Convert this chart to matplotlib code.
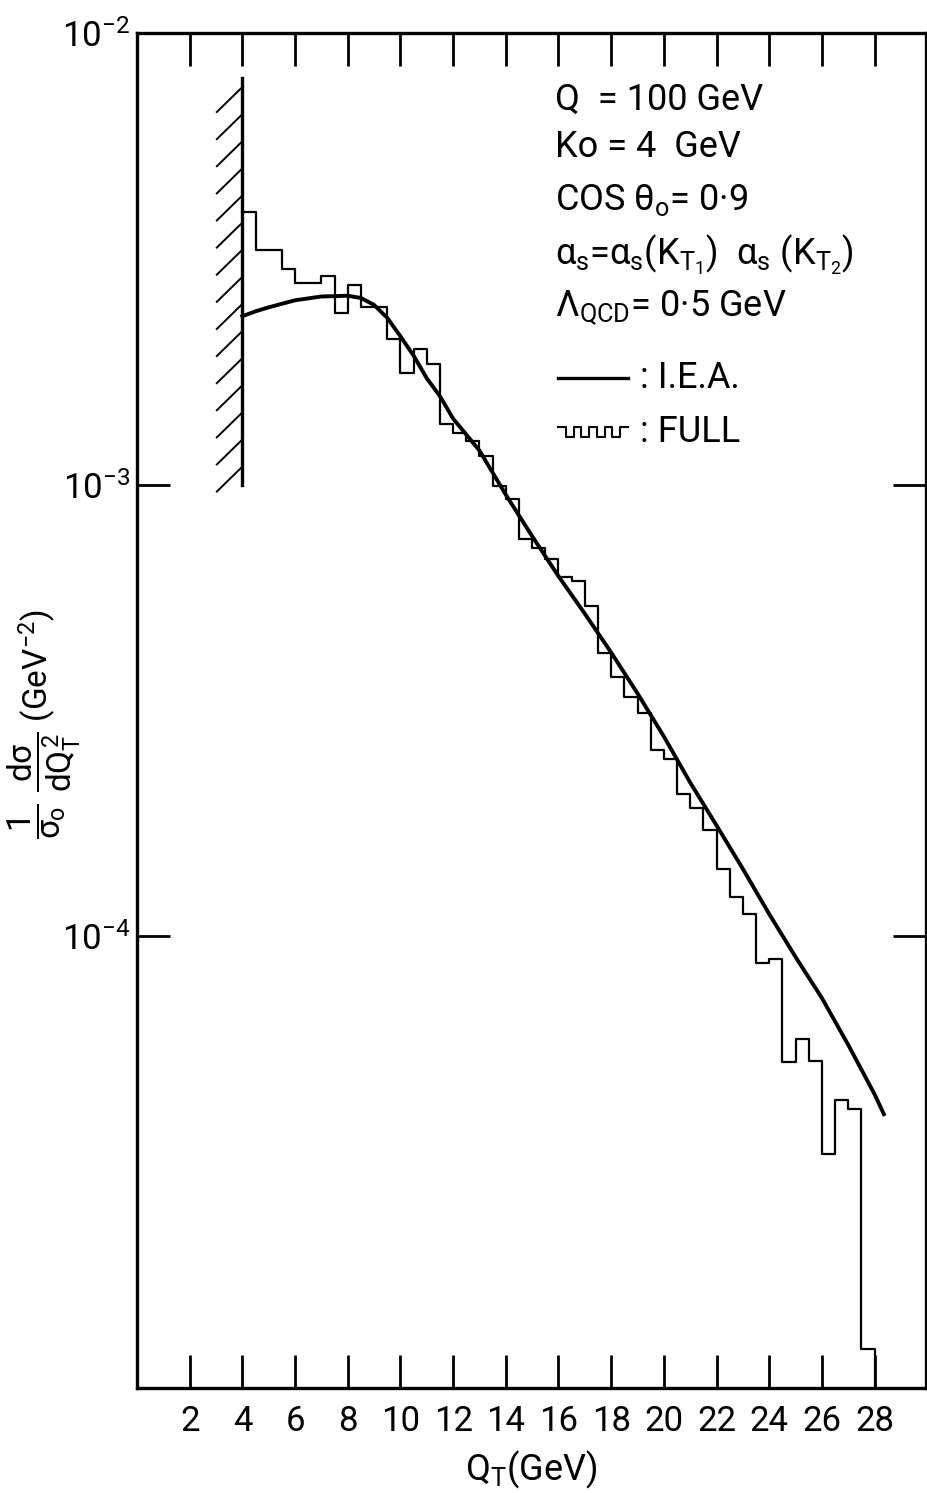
import matplotlib
matplotlib.use('Agg')
import matplotlib.pyplot as plt
import numpy as np
from matplotlib.ticker import FixedLocator, NullLocator

FONT = 'Roboto'
plt.rcParams['font.family'] = [FONT, 'DejaVu Sans']
plt.rcParams['mathtext.fontset'] = 'custom'
plt.rcParams['mathtext.rm'] = FONT
plt.rcParams['mathtext.it'] = FONT
plt.rcParams['mathtext.sf'] = FONT

# histogram (FULL), bins of 0.5 GeV starting at Ko = 4 GeV
bin_edges = np.arange(4.0, 28.01, 0.5)
full_vals = [4.02e-3, 3.30e-3, 3.30e-3, 3.01e-3, 2.80e-3, 2.80e-3, 2.89e-3, 2.40e-3,
             2.77e-3, 2.47e-3, 2.47e-3, 2.10e-3, 1.77e-3, 2.00e-3, 1.85e-3, 1.36e-3,
             1.30e-3, 1.25e-3, 1.156e-3, 9.91e-4, 9.29e-4, 7.58e-4, 7.24e-4, 6.85e-4,
             6.24e-4, 6.11e-4, 5.38e-4, 4.25e-4, 3.76e-4, 3.38e-4, 3.13e-4, 2.58e-4,
             2.47e-4, 2.07e-4, 1.92e-4, 1.72e-4, 1.41e-4, 1.22e-4, 1.12e-4, 8.75e-5,
             8.89e-5, 5.28e-5, 5.94e-5, 5.29e-5, 3.30e-5, 4.35e-5, 4.14e-5, 1.22e-5]

# I.E.A. curve
iea_x = [4.0, 4.5, 5.0, 6.0, 7.0, 8.0, 8.5, 9.0, 9.5, 10.0, 10.5, 11.0, 11.5, 12.0, 13.0,
         14.0, 15.0, 16.0, 17.0, 18.0, 19.0, 20.0, 21.0, 22.0, 23.0, 24.0, 25.0, 26.0,
         27.0, 28.0, 28.35]
iea_y = [2.36e-3, 2.42e-3, 2.47e-3, 2.56e-3, 2.61e-3, 2.62e-3, 2.59e-3, 2.50e-3, 2.34e-3,
         2.13e-3, 1.93e-3, 1.72e-3, 1.57e-3, 1.40e-3, 1.19e-3, 9.5e-4, 7.69e-4, 6.27e-4,
         5.18e-4, 4.25e-4, 3.45e-4, 2.77e-4, 2.19e-4, 1.76e-4, 1.41e-4, 1.12e-4, 9.0e-5,
         7.3e-5, 5.75e-5, 4.47e-5, 4.04e-5]

x_ticks = list(range(2, 29, 2))
y_ticks = [1e-4, 1e-3, 1e-2]
y_min, y_max = 1e-5, 1e-2
wall_x, wall_lo, wall_hi = 4.0, 1e-3, 7.95e-3

fig = plt.figure(figsize=(9.27, 14.93), dpi=100)
ax = fig.add_axes([0.1478, 0.0703, 0.8511, 0.9076])
ax.set_yscale('log')
ax.set_xlim(0, 29.95)
ax.set_ylim(y_min, y_max)

# histogram, last bin drops to the frame
ax.plot(bin_edges, list(full_vals) + [y_min], drawstyle='steps-post', color='k', lw=1.6)
ax.plot(iea_x, iea_y, color='k', lw=2.8)

# cut-off wall with hatching
ax.plot([wall_x, wall_x], [wall_lo, wall_hi], color='k', lw=2.4)
n_hatch = 15
tops = np.logspace(np.log10(wall_hi) - 0.02, np.log10(wall_lo) + 0.04, n_hatch)
for t in tops:
    ax.plot([wall_x - 0.97, wall_x], [t / 10 ** 0.0553, t], color='k', lw=1.4)

ax.xaxis.set_major_locator(FixedLocator(x_ticks))
ax.yaxis.set_major_locator(FixedLocator(y_ticks))
ax.yaxis.set_minor_locator(NullLocator())
ax.tick_params(axis='both', which='major', direction='in', length=24, width=2,
               top=True, right=True, labelsize=25)
ax.tick_params(axis='x', pad=12)
ax.tick_params(axis='y', pad=5)
for s in ax.spines.values():
    s.set_linewidth(2.4)

ax.set_xlabel(r'Q$_\mathrm{T}$(GeV)', fontsize=26, labelpad=8)
ylab = ax.set_ylabel(r'$\dfrac{1}{\sigma_o}\ \dfrac{d\sigma}{dQ_T^2}$ (GeV$^{-2}$)', fontsize=24)
ylab.set_verticalalignment('center')
ax.yaxis.set_label_coords(-0.118, 0.49)

tx = 0.530
kw = dict(transform=ax.transAxes, fontsize=26, va='center', ha='left')
ax.text(tx, 0.9506, 'Q  = 100 GeV', **kw)
ax.text(tx, 0.9159, 'Ko = 4  GeV', **kw)
ax.text(tx, 0.8768, r'COS $\theta_o$= 0·9', **kw)
ax.text(tx, 0.8362, r'$\alpha_s$=$\alpha_s$(K$_{T_1}$)  $\alpha_s$ (K$_{T_2}$)', **kw)
ax.text(tx, 0.7970, r'$\Lambda_{QCD}$= 0·5 GeV', **kw)

# legend drawn by hand
ax.plot([0.534, 0.622], [0.7454, 0.7454], color='k', lw=2.4, transform=ax.transAxes)
ax.text(0.637, 0.7454, ': I.E.A.', **kw)
wx = np.linspace(0.534, 0.622, 10)
wy = [0.7095, 0.7020] * 4 + [0.7095, 0.7095]
ax.plot(wx, wy, drawstyle='steps-post', color='k', lw=1.5, transform=ax.transAxes)
ax.text(0.637, 0.7055, ': FULL', **kw)

fig.savefig('out.png', dpi=100)
